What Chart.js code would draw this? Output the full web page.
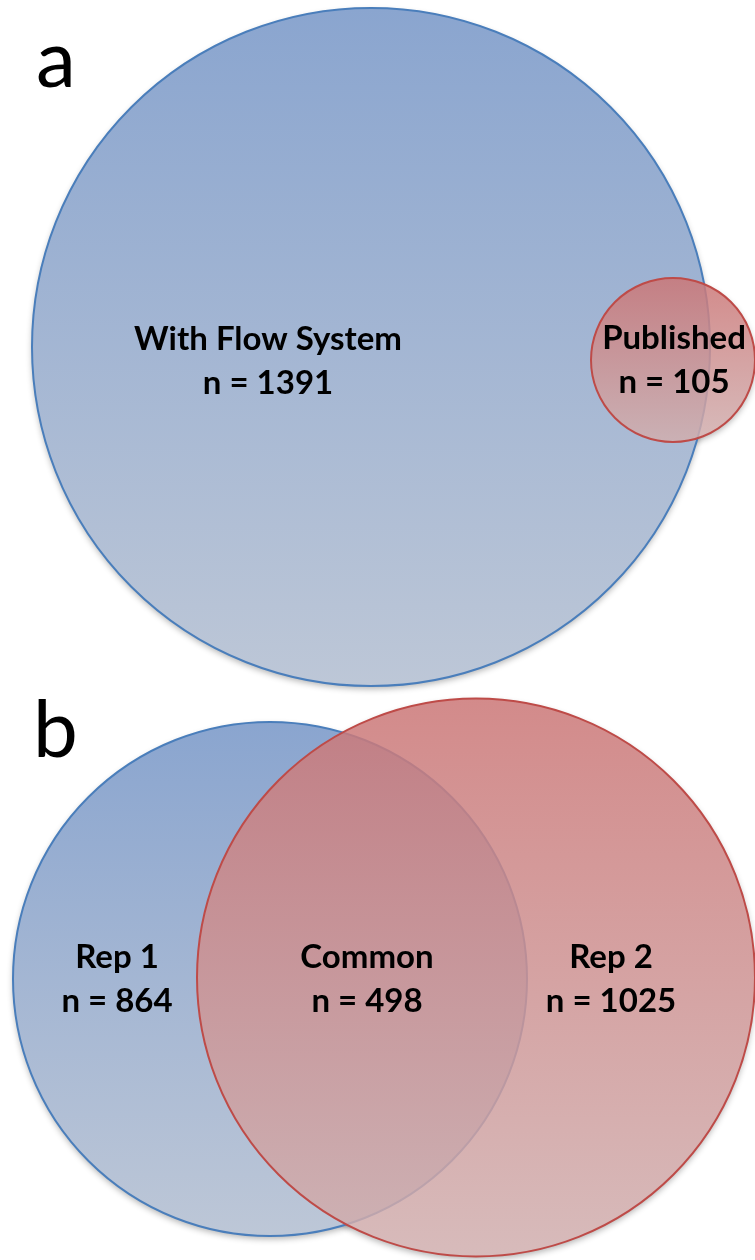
<!DOCTYPE html>
<html>
<head>
<meta charset="utf-8">
<script src="https://cdn.jsdelivr.net/npm/chart.js@4/dist/chart.umd.min.js"></script>
<style>
	html, body { margin: 0; padding: 0; background: #fff; }
	#wrap { width: 755px; height: 1260px; }
</style>
</head>
<body>
<div id="wrap"><canvas id="venn" width="755" height="1260"></canvas></div>
<script>
// sets and their counts
const setNames = ['With Flow System', 'Published', 'Rep 1', 'Common', 'Rep 2'];
const setCounts = [1391, 105, 864, 498, 1025];
const panelLetters = ['a', 'b'];

// circle geometry in plot units (x 0..755, y 0..1260 from top)
const blueX = [371, 270];
const blueY = [347, 979];
const blueR = [339, 257];
const redX = [673, 476];
const redY = [360, 977.5];
const redR = [82, 279];

// label anchors in plot units
const labelX = [268, 674, 117, 367, 611];
const labelY = [350, 349, 968, 968, 968];
const letterX = [36, 33];
const letterY = [87, 757];

function circles(xs, ys, rs) {
	return xs.map((x, i) => ({x: x, y: ys[i], rad: rs[i]}));
}

// radius in pixels, measured on the x scale
function pixelRadius(ctx) {
	const chart = ctx.chart;
	const p = ctx.raw;
	if (!chart.chartArea || !p) return 0;
	const sx = chart.scales.x;
	const r = sx.getPixelForValue(p.x + p.rad) - sx.getPixelForValue(p.x);
	return isFinite(r) ? r : 0;
}

function gradientFill(top, bottom) {
	return (ctx) => {
		const chart = ctx.chart;
		const p = ctx.raw;
		if (!chart.chartArea || !p) return top;
		const sy = chart.scales.y;
		const g = chart.ctx.createLinearGradient(0, sy.getPixelForValue(p.y - p.rad), 0, sy.getPixelForValue(p.y + p.rad));
		g.addColorStop(0, top);
		g.addColorStop(1, bottom);
		return g;
	};
}

const shadowPlugin = {
	id: 'shadow',
	beforeDatasetsDraw(chart) {
		const c = chart.ctx;
		c.save();
		c.shadowColor = 'rgba(0,0,0,0.3)';
		c.shadowBlur = 6;
		c.shadowOffsetY = 3;
		c.fillStyle = '#fff';
		chart.data.datasets.forEach((ds, i) => {
			chart.getDatasetMeta(i).data.forEach(el => {
				if (!(el.options.radius > 0)) return;
				c.beginPath();
				c.arc(el.x, el.y, el.options.radius, 0, Math.PI * 2);
				c.fill();
			});
		});
		c.restore();
	}
};

const labelPlugin = {
	id: 'labels',
	afterDatasetsDraw(chart) {
		const c = chart.ctx;
		const sx = chart.scales.x;
		const sy = chart.scales.y;
		c.save();
		c.fillStyle = '#000';
		c.textAlign = 'center';
		c.textBaseline = 'alphabetic';
		c.font = 'bold 33px Lato';
		setNames.forEach((name, i) => {
			const px = sx.getPixelForValue(labelX[i]);
			const py = sy.getPixelForValue(labelY[i]);
			c.fillText(name, px, py);
			c.fillText('n = ' + setCounts[i], px, py + 44);
		});
		c.textAlign = 'left';
		c.font = '80px Lato';
		panelLetters.forEach((l, i) => {
			c.fillText(l, sx.getPixelForValue(letterX[i]), sy.getPixelForValue(letterY[i]));
		});
		c.restore();
	}
};

new Chart(document.getElementById('venn'), {
	type: 'scatter',
	data: {
		datasets: [{
			label: 'blue',
			order: 2,
			data: circles(blueX, blueY, blueR),
			pointRadius: pixelRadius,
			pointBackgroundColor: gradientFill('rgb(138,165,207)', 'rgb(189,199,215)'),
			pointBorderColor: '#4a7ebb',
			pointBorderWidth: 2,
			clip: false
		}, {
			label: 'red',
			order: 1,
			data: circles(redX, redY, redR),
			pointRadius: pixelRadius,
			pointBackgroundColor: gradientFill('rgba(203,118,118,0.85)', 'rgba(208,175,175,0.85)'),
			pointBorderColor: '#be4b48',
			pointBorderWidth: 2,
			clip: false
		}]
	},
	options: {
		responsive: false,
		animation: false,
		events: [],
		layout: {padding: 0, autoPadding: false},
		plugins: {legend: {display: false}, tooltip: {enabled: false}},
		scales: {
			x: {type: 'linear', min: 0, max: 755, display: false},
			y: {type: 'linear', min: 0, max: 1260, reverse: true, display: false}
		}
	},
	plugins: [shadowPlugin, labelPlugin]
});
</script>
</body>
</html>
